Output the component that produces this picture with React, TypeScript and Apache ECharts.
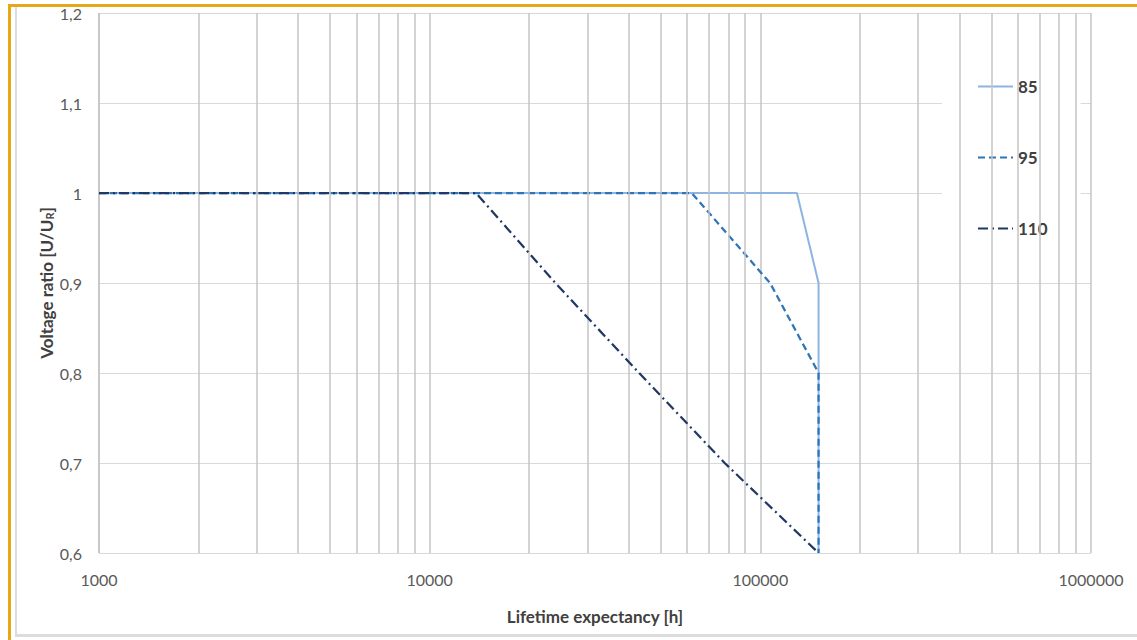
import React, { useEffect, useRef } from "react";
import * as echarts from "echarts";

// Series data (lifetime in hours, voltage ratio)
const life85 = [1000, 129000, 150000, 150000];
const ratio85 = [1, 1, 0.9, 0.6];
const life95 = [1000, 62000, 107000, 150000, 150000];
const ratio95 = [1, 1, 0.9, 0.8, 0.6];
const life110 = [1000, 13800, 24000, 43000, 78000, 150000];
const ratio110 = [1, 1, 0.9, 0.8, 0.7, 0.6];

const seriesNames = ["85", "95", "110"];
const minorGridValues = [
  2000, 3000, 4000, 5000, 6000, 7000, 8000, 9000,
  20000, 30000, 40000, 50000, 60000, 70000, 80000, 90000,
  200000, 300000, 400000, 500000, 600000, 700000, 800000, 900000,
];

const FONT = "Lato, 'Noto Sans', sans-serif";
const zip = (xs: number[], ys: number[]) => xs.map((x, i) => [x, ys[i]]);

export default function App() {
  const ref = useRef<HTMLDivElement>(null);
  useEffect(() => {
    if (!ref.current) return;
    const chart = echarts.init(ref.current, undefined, { renderer: "svg" });
    const vGrid = { color: "#c4c4c4", width: 1.5 };
    chart.setOption({
      animation: false,
      backgroundColor: "#ffffff",
      grid: { left: 99, right: 46, top: 13, bottom: 87, containLabel: false },
      legend: {
        data: seriesNames,
        orient: "vertical",
        left: 942,
        top: 50,
        padding: [28, 33, 28, 35],
        itemWidth: 35,
        itemHeight: 14,
        itemGap: 54,
        backgroundColor: "#ffffff",
        itemStyle: { opacity: 0 },
        textStyle: { fontFamily: FONT, fontWeight: "bold", fontSize: 17, color: "#404040" },
      },
      xAxis: {
        type: "log",
        logBase: 10,
        min: 1000,
        max: 1000000,
        name: "Lifetime expectancy [h]",
        nameLocation: "middle",
        nameGap: 55,
        nameMoveOverlap: false,
        nameTextStyle: { fontFamily: FONT, fontWeight: "bold", fontSize: 17, color: "#404040" },
        axisLine: { show: false },
        axisTick: { show: false },
        axisLabel: {
          fontFamily: FONT,
          fontSize: 16,
          color: "#595959",
          margin: 18,
          formatter: (v: number) => String(Math.round(v)),
        },
        splitLine: { show: true, lineStyle: vGrid },
        minorTick: { show: false },
        minorSplitLine: { show: false },
      },
      yAxis: {
        type: "value",
        min: 0.6,
        max: 1.2,
        interval: 0.1,
        name: "{a|Voltage ratio [U/U}{sub|R}{a|]}",
        nameLocation: "middle",
        nameGap: 44,
        nameMoveOverlap: false,
        nameRotate: 90,
        nameTextStyle: {
          rich: {
            a: { fontFamily: FONT, fontWeight: "bold", fontSize: 17, color: "#404040" },
            sub: { fontFamily: FONT, fontWeight: "bold", fontSize: 11, color: "#404040", padding: [7, 0, 0, 0] },
          },
        },
        axisLine: { show: false },
        axisTick: { show: false },
        axisLabel: {
          fontFamily: FONT,
          fontSize: 16,
          color: "#595959",
          margin: 17,
          formatter: (v: number) => {
            const r = Math.round(v * 10) / 10;
            return r === 1 ? "1" : r.toFixed(1).replace(".", ",");
          },
        },
        splitLine: { show: true, lineStyle: { color: "#d9d9d9", width: 1 } },
      },
      series: [
        {
          name: "grid",
          type: "line",
          data: [],
          z: 1,
          silent: true,
          markLine: {
            silent: true,
            symbol: ["none", "none"],
            label: { show: false },
            lineStyle: { type: "solid", ...vGrid },
            emphasis: { disabled: true },
            data: minorGridValues.map((v) => ({ xAxis: v })),
          },
        },
        {
          name: "85",
          type: "line",
          z: 3,
          symbol: "none",
          data: zip(life85, ratio85),
          lineStyle: { color: "#8db4e2", width: 2, type: "solid" },
          itemStyle: { color: "#8db4e2" },
        },
        {
          name: "95",
          type: "line",
          z: 4,
          symbol: "none",
          data: zip(life95, ratio95),
          lineStyle: { color: "#2e75b6", width: 2.25, type: [7, 4] },
          itemStyle: { color: "#2e75b6" },
        },
        {
          name: "110",
          type: "line",
          z: 5,
          symbol: "none",
          data: zip(life110, ratio110),
          lineStyle: { color: "#1f3864", width: 2.25, type: [10, 4, 2, 4] },
          itemStyle: { color: "#1f3864" },
        },
      ],
      graphic: [
        { type: "rect", shape: { x: 8, y: 4, width: 3, height: 636 }, style: { fill: "#e6a817" }, silent: true },
        { type: "rect", shape: { x: 8, y: 4, width: 1129, height: 3 }, style: { fill: "#e6a817" }, silent: true },
        { type: "rect", shape: { x: 15, y: 7, width: 2, height: 630 }, style: { fill: "#dcdcdc" }, silent: true },
        { type: "rect", shape: { x: 15, y: 634, width: 1122, height: 3 }, style: { fill: "#dcdcdc" }, silent: true },
      ],
    });
    return () => chart.dispose();
  }, []);
  return (
    <div
      ref={ref}
      style={{ position: "fixed", left: 0, top: 0, width: 1137, height: 640 }}
    />
  );
}
